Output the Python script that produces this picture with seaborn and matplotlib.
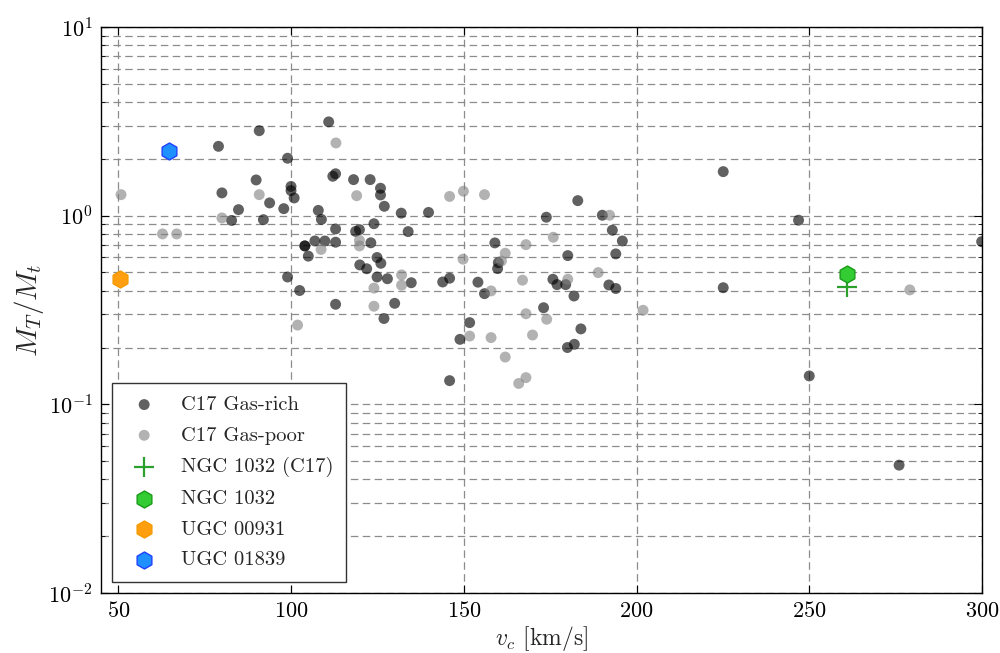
import numpy as np
import pandas as pd
import matplotlib
matplotlib.use("Agg")
import matplotlib.pyplot as plt
import seaborn as sns
from matplotlib.ticker import LogLocator, NullFormatter, FixedLocator

# ---- data ----
rich_v = [79.0, 80.0, 82.8, 84.8, 89.9, 90.8, 92.0, 93.8, 97.9, 99.0, 99.0, 100.0, 100.0, 100.9,
          102.5, 104.0, 104.0, 105.0, 106.9, 107.9, 108.8, 109.8, 110.9, 112.1, 112.9, 112.9, 112.9,
          112.9, 118.1, 118.7, 119.8, 119.9, 121.9, 122.9, 123.1, 124.0, 124.9, 126.0, 124.9, 127.9,
          125.9, 125.9, 127.0, 126.9, 130.0, 131.9, 133.9, 134.8, 139.8, 143.9, 145.9, 148.9, 145.9,
          151.7, 154.1, 156.0, 159.0, 160.0, 159.8, 173.1, 173.9, 175.8, 177.0, 179.5, 180.1, 181.9,
          183.0, 183.9, 180.0, 182.0, 190.1, 193.0, 195.9, 194.0, 192.0, 194.0, 225.1, 225.1, 246.9,
          250.0, 276.0, 299.9]
rich_m = [2.33, 1.32, 0.943, 1.076, 1.546, 2.82, 0.952, 1.168, 1.089, 2.015, 0.473, 1.428, 1.357,
          1.241, 0.401, 0.691, 0.691, 0.610, 0.734, 1.066, 0.955, 0.734, 3.14, 1.617, 1.667, 0.850,
          0.723, 0.339, 1.552, 0.825, 0.843, 0.548, 0.523, 1.552, 0.718, 0.906, 0.600, 0.559, 0.473,
          0.463, 1.397, 1.287, 1.121, 0.285, 0.343, 1.031, 0.823, 0.441, 1.040, 0.445, 0.466, 0.221,
          0.1335, 0.271, 0.444, 0.386, 0.717, 0.563, 0.524, 0.325, 0.981, 0.460, 0.431, 0.431, 0.614,
          0.375, 1.201, 0.251, 0.200, 0.208, 1.005, 0.837, 0.734, 0.627, 0.429, 0.411, 1.711, 0.415,
          0.946, 0.1414, 0.0476, 0.728]

poor_v = [50.8, 62.8, 66.9, 80.0, 90.8, 101.9, 113.0, 108.7, 119.0, 119.8, 119.8, 124.0, 124.0,
          132.0, 132.0, 145.9, 149.9, 156.0, 149.8, 151.7, 157.9, 157.9, 160.9, 162.0, 162.0, 165.9,
          168.0, 167.0, 168.0, 168.0, 169.9, 174.0, 175.9, 180.1, 188.9, 192.2, 201.9, 279.1]
poor_m = [1.292, 0.800, 0.800, 0.972, 1.292, 0.263, 2.428, 0.662, 1.276, 0.739, 0.691, 0.413, 0.331,
          0.485, 0.428, 1.264, 1.347, 1.292, 0.588, 0.230, 0.399, 0.2257, 0.575, 0.632, 0.178, 0.129,
          0.1385, 0.455, 0.702, 0.302, 0.233, 0.2825, 0.768, 0.460, 0.499, 1.005, 0.315, 0.404]

ngc1032_c17_v, ngc1032_c17_m = [261.0], [0.420]
ngc1032_v, ngc1032_m = [261.0], [0.489]
ugc00931_v, ugc00931_m = [50.5], [0.462]
ugc01839_v, ugc01839_m = [64.8], [2.21]

x_ticks = [50, 100, 150, 200, 250, 300]

# ---- style ----
sns.set_style("ticks")
plt.rcParams.update({
    "font.family": ["serif"],
    "font.serif": ["cmr10", "DejaVu Serif"],
    "mathtext.fontset": "cm",
    "axes.formatter.use_mathtext": True,
    "axes.edgecolor": "black",
    "axes.linewidth": 1.0,
    "xtick.color": "black",
    "ytick.color": "black",
    "axes.unicode_minus": False,
})

fig = plt.figure(figsize=(10, 6.53), dpi=100)
ax = fig.add_axes([0.101, 0.0919, 0.881, 0.8668])

rich = pd.DataFrame({"v": rich_v, "m": rich_m})
poor = pd.DataFrame({"v": poor_v, "m": poor_m})

sns.scatterplot(data=rich, x="v", y="m", ax=ax, color="black", alpha=0.62, s=62,
                edgecolor="none", label="C17 Gas-rich", zorder=3)
sns.scatterplot(data=poor, x="v", y="m", ax=ax, color="#808080", alpha=0.6, s=62,
                edgecolor="none", label="C17 Gas-poor", zorder=3)
sns.scatterplot(x=ngc1032_c17_v, y=ngc1032_c17_m, ax=ax, marker="+", color="#2ca02c", s=220,
                linewidth=1.6, label="NGC 1032 (C17)", zorder=4)
sns.scatterplot(x=ngc1032_v, y=ngc1032_m, ax=ax, marker="h", color="#33cc33", s=150,
                edgecolor="#1a9a1a", linewidth=1.0, label="NGC 1032", zorder=5)
sns.scatterplot(x=ugc00931_v, y=ugc00931_m, ax=ax, marker="h", color="#ff9f10", s=150,
                edgecolor="#f59a00", linewidth=1.0, label="UGC 00931", zorder=5)
sns.scatterplot(x=ugc01839_v, y=ugc01839_m, ax=ax, marker="h", color="#1e90ff", s=150,
                edgecolor="#2040ff", linewidth=1.0, label="UGC 01839", zorder=5)

ax.set_yscale("log")
ax.set_xlim(45, 300)
ax.set_ylim(1e-2, 10)
ax.xaxis.set_major_locator(FixedLocator(x_ticks))
ax.yaxis.set_major_locator(LogLocator(base=10, numticks=10))
ax.yaxis.set_minor_locator(LogLocator(base=10, subs=np.arange(2, 10), numticks=20))
ax.yaxis.set_minor_formatter(NullFormatter())

ax.set_axisbelow(True)
grid_kw = dict(color="#8c8c8c", linestyle=(0, (6, 3.5)), linewidth=0.9)
ax.grid(True, which="major", axis="both", **grid_kw)
ax.grid(True, which="minor", axis="y", **grid_kw)

ax.tick_params(which="both", direction="in", top=True, right=True, labelsize=16, pad=6)
ax.tick_params(which="major", length=6, width=0.8)
ax.tick_params(which="minor", length=3, width=0.6)

ax.set_xlabel(r"$v_c$ [km/s]", fontsize=17, labelpad=2)
ax.set_ylabel(r"$M_T/M_t$", fontsize=21, labelpad=2)

for sp in ax.spines.values():
    sp.set_visible(True)
    sp.set_color("black")

leg = ax.legend(loc="lower left", scatterpoints=1, fontsize=14.8, frameon=True, fancybox=False,
                framealpha=1, edgecolor="#333333", labelspacing=0.6, borderpad=0.6,
                handletextpad=0.85, borderaxespad=0.55, handlelength=1.9)
leg.get_frame().set_linewidth(1.0)

fig.savefig("out.png", dpi=100)
